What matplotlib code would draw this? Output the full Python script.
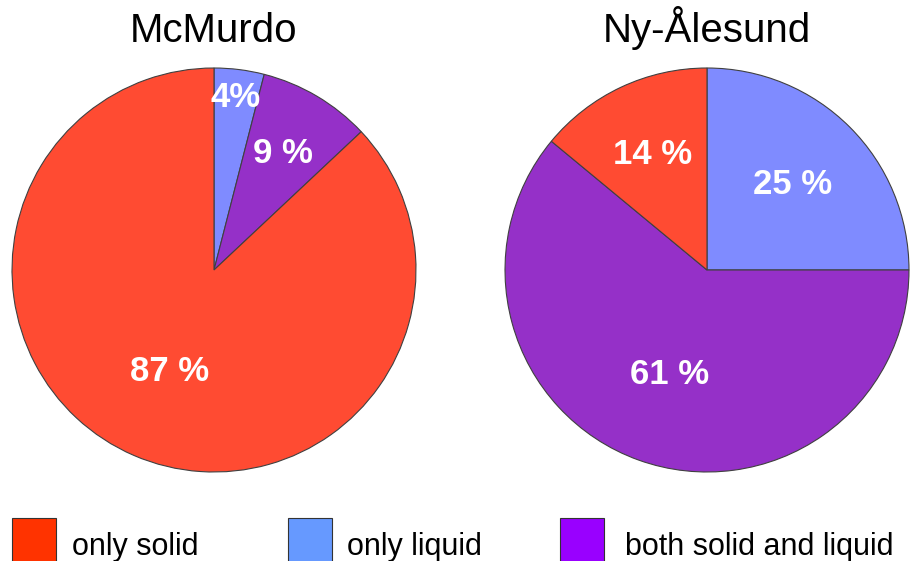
import matplotlib.pyplot as plt
from matplotlib.patches import Rectangle
import numpy as np

# data
categories = ['only solid', 'only liquid', 'both solid and liquid']
stations = ['McMurdo', 'Ny-Ålesund']
mcmurdo = [87, 4, 9]
nyalesund = [14, 25, 61]
mcmurdo_labels = ['87 %', '4%', '9 %']
nyalesund_labels = ['14 %', '25 %', '61 %']

# styles
pie_colors = {'only solid': '#ff4b32', 'only liquid': '#7f8bff', 'both solid and liquid': '#9530c8'}
legend_colors = ['#ff3300', '#6699ff', '#9900ff']
# label distance (fraction of radius) for each wedge
mcmurdo_dist = [0.55, 0.86, 0.67]
nyalesund_dist = [0.63, 0.60, 0.55]

plt.rcParams['font.family'] = ['Liberation Sans', 'DejaVu Sans']

fig = plt.figure(figsize=(9.14, 5.61), dpi=100)
W, H = 914, 561
R = 203


def draw_pie(cx, cy, values, labels, dists, title):
    ax = fig.add_axes([(cx - R) / W, (H - cy - R) / H, 2 * R / W, 2 * R / H])
    # clockwise order from the top: liquid, both, solid
    order = [1, 2, 0]
    vals = [values[i] for i in order]
    cols = [pie_colors[categories[i]] for i in order]
    wedges, _ = ax.pie(vals, colors=cols, startangle=90, counterclock=False,
                       wedgeprops=dict(edgecolor='#404040', linewidth=0.8))
    for w, i in zip(wedges, order):
        ang = np.deg2rad((w.theta1 + w.theta2) / 2)
        d = dists[i]
        ax.text(d * np.cos(ang), d * np.sin(ang), labels[i], color='white',
                fontsize=25, fontweight='bold', ha='center', va='center')
    ax.set_xlim(-1.005, 1.005)
    ax.set_ylim(-1.005, 1.005)
    ax.set_aspect('equal')
    ax.axis('off')
    fig.text(cx / W, 1 - 42 / H, title, fontsize=29, ha='center', va='baseline')


draw_pie(214, 270, mcmurdo, mcmurdo_labels, mcmurdo_dist, stations[0])
draw_pie(707, 270, nyalesund, nyalesund_labels, nyalesund_dist, stations[1])

# legend row
patch_x = [12, 288, 560]
text_x = [72, 347, 625]
for x, tx, c, name in zip(patch_x, text_x, legend_colors, categories):
    fig.patches.append(Rectangle((x / W, -10 / H), 44 / W, 53 / H,
                                 transform=fig.transFigure, facecolor=c,
                                 edgecolor='#333333', linewidth=0.8))
    fig.text(tx / W, 6 / H, name, fontsize=22, ha='left', va='baseline')

fig.savefig('out.png', dpi=100)
